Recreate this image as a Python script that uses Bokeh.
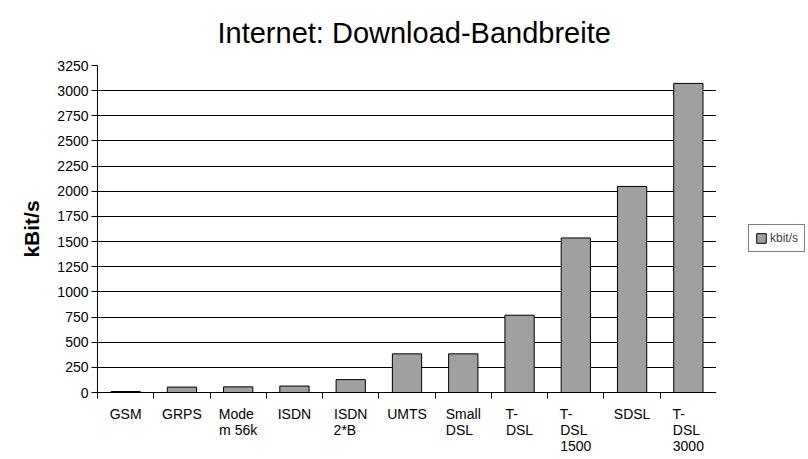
from bokeh.plotting import figure
from bokeh.layouts import row
from bokeh.models import FixedTicker, Range1d, Legend, LegendItem, ColumnDataSource
from bokeh.embed import file_html
from bokeh.resources import INLINE

categories = ["GSM", "GRPS", "Mode\nm 56k", "ISDN", "ISDN\n2*B", "UMTS", "Small\nDSL",
              "T-\nDSL", "T-\nDSL\n1500", "SDSL", "T-\nDSL\n3000"]
values = [9.6, 53.6, 56, 64, 128, 384, 384, 768, 1536, 2048, 3072]
y_ticks = list(range(0, 3251, 250))
series_name = "kbit/s"

FONT = "Liberation Sans"
BAR_FILL = "#A0A0A0"

# approximate Arial/Liberation advance widths (per 1000 em) to left-align wrapped lines
CHAR_W = {"T": 611, "-": 333, "D": 722, "S": 667, "L": 556, "M": 833, "o": 556, "d": 556,
          "e": 556, "m": 833, " ": 278, "k": 500, "I": 278, "N": 722, "*": 389, "B": 667,
          "a": 556, "l": 222, "G": 778, "R": 722, "P": 667, "U": 722}


def left_aligned(label):
    lines = label.split("\n")
    if len(lines) == 1:
        return label
    widths = [sum(CHAR_W.get(c, 556) for c in ln) for ln in lines]
    mx = max(widths)
    out = []
    for ln, w in zip(lines, widths):
        n = int(round((mx - w) / 278.0))
        out.append(ln + "\u00a0" * n)
    return "\n".join(out)


xs = list(range(1, len(categories) + 1))
src = ColumnDataSource(dict(x=xs, top=values))

p = figure(width=716, height=459, output_backend="svg", toolbar_location=None,
           x_range=Range1d(0.5, len(categories) + 0.5), y_range=Range1d(0, 3250),
           min_border_left=97, min_border_right=0, min_border_top=65, min_border_bottom=67)
p.outline_line_color = None
p.background_fill_color = "white"
p.border_fill_color = "white"

p.title.text = "Internet: Download-Bandbreite"
p.title.align = "left"
p.title.offset = 120
p.title.vertical_align = "top"
p.title.text_baseline = "top"
p.title.text_font = FONT
p.title.text_font_size = "29px"
p.title.text_font_style = "normal"
p.title.text_color = "black"
p.title.standoff = 30

r = p.vbar(x="x", top="top", width=0.52, source=src, fill_color=BAR_FILL,
           line_color="black", line_width=1)

# x axis
p.xaxis.ticker = FixedTicker(ticks=xs, minor_ticks=[i + 0.5 for i in range(len(categories) + 1)])
p.xaxis.major_label_overrides = {x: left_aligned(c) for x, c in zip(xs, categories)}
p.xaxis.major_tick_out = 0
p.xaxis.major_tick_in = 0
p.xaxis.minor_tick_out = 6
p.xaxis.minor_tick_in = 0
p.xaxis.minor_tick_line_color = "black"
p.xaxis.axis_line_color = "black"
p.xaxis.major_label_text_font = FONT
p.xaxis.major_label_text_font_size = "14px"
p.xaxis.major_label_text_color = "black"
p.xaxis.major_label_text_line_height = 1.0
p.xaxis.major_label_standoff = 7
p.xgrid.grid_line_color = None

# y axis
p.yaxis.ticker = FixedTicker(ticks=y_ticks, minor_ticks=[])
p.yaxis.major_tick_out = 6
p.yaxis.major_tick_in = 0
p.yaxis.minor_tick_out = 0
p.yaxis.minor_tick_in = 0
p.yaxis.major_tick_line_color = "black"
p.yaxis.axis_line_color = "black"
p.yaxis.major_label_text_font = FONT
p.yaxis.major_label_text_font_size = "14px"
p.yaxis.major_label_text_color = "black"
p.yaxis.major_label_standoff = 3
p.yaxis.axis_label = "kBit/s"
p.yaxis.axis_label_text_font = FONT
p.yaxis.axis_label_text_font_size = "21px"
p.yaxis.axis_label_text_font_style = "bold"
p.yaxis.axis_label_text_color = "black"
p.yaxis.axis_label_standoff = 11
p.ygrid.grid_line_color = "black"
p.ygrid.grid_line_width = 1
p.ygrid.ticker = FixedTicker(ticks=y_ticks)

# legend panel (separate narrow figure to the right)
q = figure(width=92, height=459, output_backend="svg", toolbar_location=None,
           x_range=Range1d(0, 1), y_range=Range1d(0, 1),
           min_border_left=0, min_border_right=0, min_border_top=0, min_border_bottom=0)
q.axis.visible = False
q.grid.visible = False
q.outline_line_color = None
q.background_fill_color = "white"
q.border_fill_color = "white"
# swatch source for the legend only (kept outside the visible range)
dummy = q.vbar(x=[-5], top=[0], width=0.5, fill_color=BAR_FILL, line_color="black", line_width=1)

legend = Legend(items=[LegendItem(label=series_name, renderers=[dummy])],
                location=(32, 140), orientation="vertical",
                border_line_color="black", border_line_width=1,
                background_fill_color="white", background_fill_alpha=1,
                label_text_font=FONT, label_text_font_size="12px",
                glyph_width=12, glyph_height=12, padding=6, margin=0,
                label_standoff=3, spacing=0, label_height=12)
q.add_layout(legend, "center")

layout = row(p, q)
open("out.html", "w").write(file_html(layout, INLINE))
